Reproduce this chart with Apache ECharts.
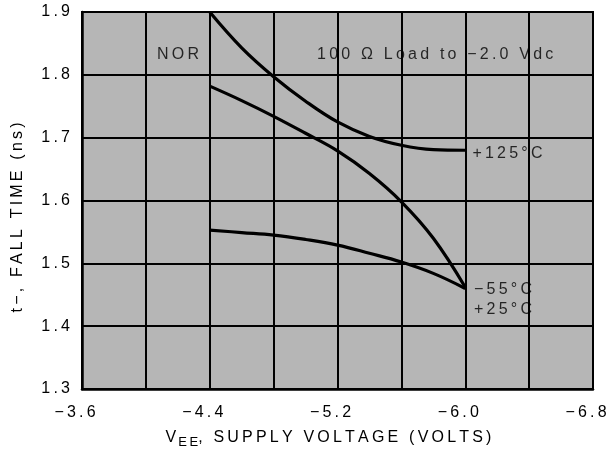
<!DOCTYPE html>
<html>
<head>
<meta charset="utf-8">
<script src="https://cdn.jsdelivr.net/npm/echarts@6/dist/echarts.min.js"></script>
<style>
  html, body { margin: 0; padding: 0; background: #fff; }
  #chart { width: 611px; height: 454px; }
</style>
</head>
<body>
<div id="chart"></div>
<script>
// Supply voltage (V) sample points for each curve
const vee125 = [-4.4, -4.6, -4.8, -5.0, -5.2, -5.4, -5.6, -5.8, -6.0];
const veeMid = [-4.4, -4.6, -4.8, -5.0, -5.2, -5.4, -5.6, -5.8, -6.0];
const veeLow = [-4.4, -4.6, -4.8, -5.0, -5.2, -5.4, -5.6, -5.8, -6.0];
// Fall time (ns) per temperature curve
const fall125 = [1.900, 1.843, 1.797, 1.758, 1.725, 1.702, 1.688, 1.681, 1.680];
const fallMid = [1.782, 1.759, 1.734, 1.707, 1.679, 1.643, 1.598, 1.540, 1.462];
const fallLow = [1.553, 1.549, 1.545, 1.538, 1.529, 1.516, 1.502, 1.484, 1.460];
// Axis tick labels
const xTicks = [-3.6, -4.4, -5.2, -6.0, -6.8];
const yTicks = [1.3, 1.4, 1.5, 1.6, 1.7, 1.8, 1.9];

const pair = (xs, ys) => xs.map((x, i) => [x, ys[i]]);
// wide tracking, as in the printed data-sheet lettering
const spaced = s => s.split('').join('\u2009');
const fmtMinus = v => spaced((v < 0 ? '\u2212' : '') + Math.abs(v).toFixed(1));

const font = 'Liberation Sans, Arial, sans-serif';
const curve = (name, xs, ys) => ({
  name, type: 'line', data: pair(xs, ys), smooth: 0.4,
  symbol: 'none', lineStyle: { color: '#000', width: 3.2 }, z: 5
});

const chart = echarts.init(document.getElementById('chart'), null, { renderer: 'canvas' });
chart.setOption({
  animation: false,
  grid: {
    left: 82, right: 18, top: 12, bottom: 62,
    show: true, backgroundColor: '#b6b6b6', borderColor: '#000', borderWidth: 2
  },
  xAxis: {
    type: 'value', min: -6.8, max: -3.6, interval: 0.4, inverse: true,
    axisLine: { show: true, lineStyle: { color: '#000', width: 2.5 } },
    axisTick: { show: false },
    splitLine: { show: true, lineStyle: { color: '#000', width: 2 } },
    axisLabel: {
      color: '#000', fontFamily: font, fontSize: 16, margin: 16,
      padding: [0, 14, 0, 0],
      formatter: v => xTicks.some(t => Math.abs(t - v) < 1e-6) ? fmtMinus(v) : ''
    },
    name: '{v|V}{s|E\u2009E}{t|' + spaced(', SUPPLY VOLTAGE (VOLTS)') + '}',
    nameLocation: 'middle', nameGap: 38,
    nameTextStyle: {
      padding: [0, 18, 0, 0],
      rich: {
        v: { fontFamily: font, fontSize: 16, color: '#000' },
        s: { fontFamily: font, fontSize: 13, color: '#000', verticalAlign: 'bottom', padding: [9, 0, 0, 2] },
        t: { fontFamily: font, fontSize: 16, color: '#000' }
      }
    }
  },
  yAxis: {
    type: 'value', min: 1.3, max: 1.9, interval: 0.1,
    axisLine: { show: true, lineStyle: { color: '#000', width: 2.5 } },
    axisTick: { show: false },
    splitLine: { show: true, lineStyle: { color: '#000', width: 2 } },
    axisLabel: {
      color: '#000', fontFamily: font, fontSize: 16, margin: 12,
      formatter: v => yTicks.some(t => Math.abs(t - v) < 1e-6) ? spaced(v.toFixed(1)) : ''
    },
    name: spaced('t\u2212, FALL TIME (ns)'),
    nameLocation: 'middle', nameGap: 56, nameRotate: 90,
    nameTextStyle: { fontFamily: font, fontSize: 16, color: '#000', padding: [0, 34, 0, 0] }
  },
  series: [
    curve('+125°C', vee125, fall125),
    curve('-55°C / +25°C upper', veeMid, fallMid),
    curve('-55°C / +25°C lower', veeLow, fallLow),
    {
      type: 'scatter', symbolSize: 0, silent: true, z: 6,
      label: {
        show: true, position: 'right', distance: 0, color: '#000',
        fontFamily: font, fontSize: 16, formatter: p => p.data.text
      },
      data: [
        { value: [-4.07, 1.832], text: spaced('NOR') },
        { value: [-5.072, 1.832], text: spaced('100 \u03A9 Load to \u22122.0 Vdc') },
        { value: [-6.045, 1.674], text: spaced('+125\u00B0C') },
        { value: [-6.055, 1.458], text: spaced('\u221255\u00B0C') },
        { value: [-6.055, 1.426], text: spaced('+25\u00B0C') }
      ]
    }
  ]
});
</script>
</body>
</html>
